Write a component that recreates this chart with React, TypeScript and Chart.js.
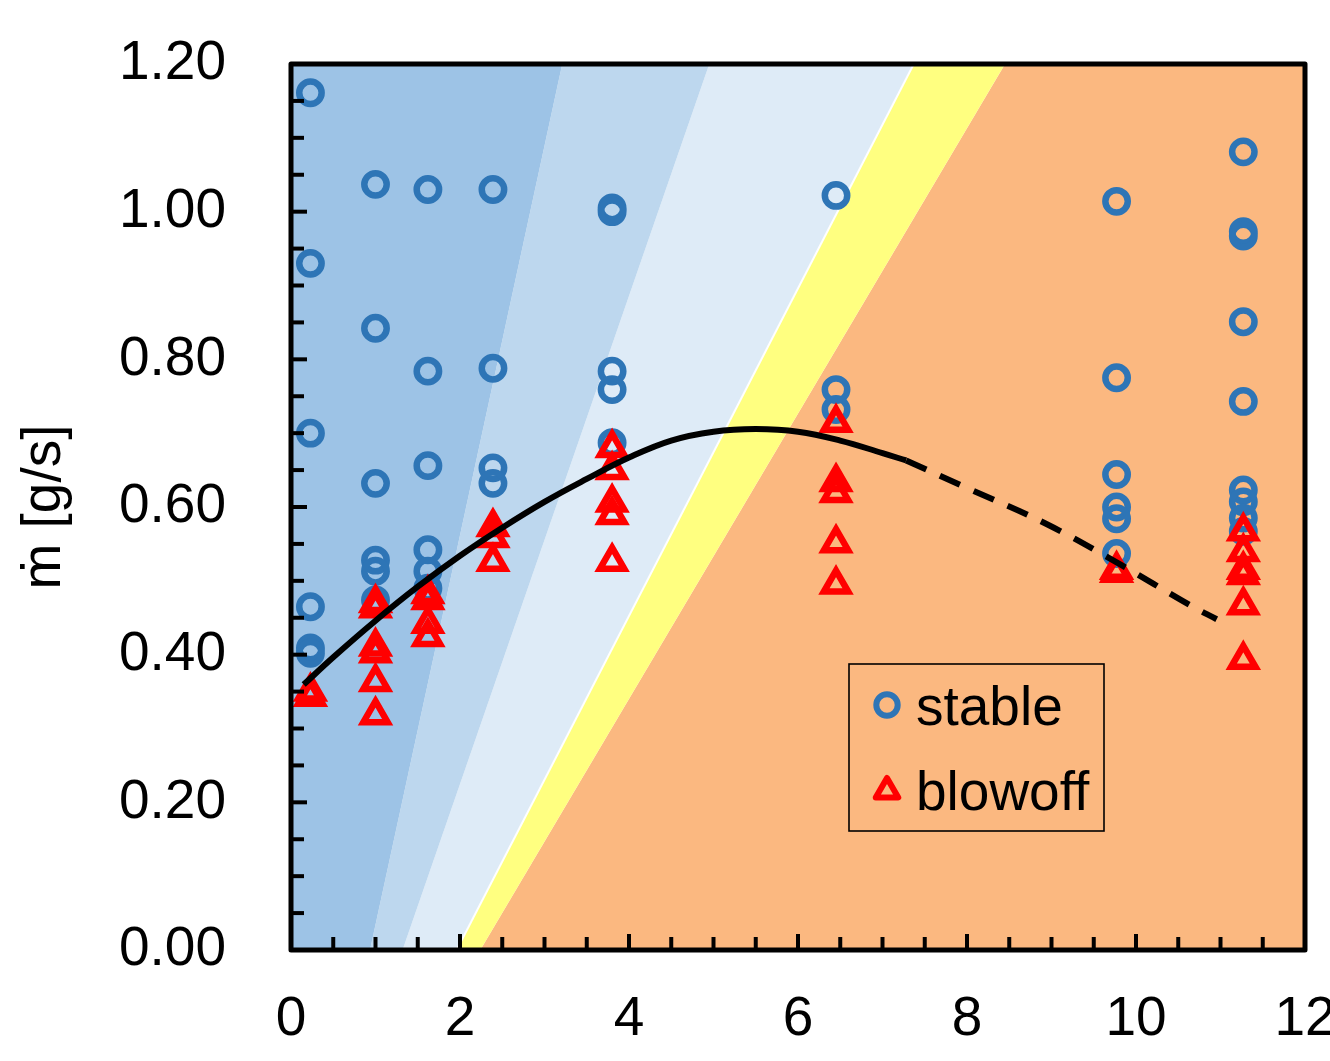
import React, { useEffect, useRef } from 'react';
import { Chart, registerables } from 'chart.js';

Chart.register(...registerables);

// ---------- data ----------
const stableX = [
  0.23, 0.23, 0.23, 0.23, 0.23, 0.23,
  1.0, 1.0, 1.0, 1.0, 1.0, 1.0,
  1.62, 1.62, 1.62, 1.62, 1.62, 1.62,
  2.39, 2.39, 2.39, 2.39,
  3.8, 3.8, 3.8, 3.8, 3.8,
  6.45, 6.45, 6.45,
  9.77, 9.77, 9.77, 9.77, 9.77, 9.77,
  11.27, 11.27, 11.27, 11.27, 11.27, 11.27, 11.27, 11.27, 11.27,
];
const stableY = [
  1.161, 0.93, 0.7, 0.465, 0.409, 0.402,
  1.037, 0.842, 0.632, 0.528, 0.513, 0.474,
  1.03, 0.784, 0.656, 0.542, 0.513, 0.49,
  1.03, 0.788, 0.653, 0.632,
  1.005, 1.0, 0.784, 0.759, 0.687,
  1.022, 0.759, 0.732,
  1.014, 0.775, 0.644, 0.6, 0.584, 0.537,
  1.081, 0.973, 0.967, 0.851, 0.743, 0.623, 0.607, 0.585, 0.567,
];
const blowoffX = [
  0.23, 0.23,
  1.0, 1.0, 1.0, 1.0, 1.0, 1.0,
  1.62, 1.62, 1.62, 1.62,
  2.39, 2.39, 2.39,
  3.8, 3.8, 3.8, 3.8, 3.8,
  6.45, 6.45, 6.45, 6.45, 6.45,
  9.77, 9.77,
  11.27, 11.27, 11.27, 11.27, 11.27, 11.27,
];
const blowoffY = [
  0.35, 0.343,
  0.47, 0.463, 0.411, 0.402, 0.363, 0.318,
  0.482, 0.474, 0.442, 0.424,
  0.573, 0.558, 0.526,
  0.68, 0.65, 0.606, 0.589, 0.526,
  0.714, 0.634, 0.619, 0.551, 0.495,
  0.515, 0.511,
  0.567, 0.539, 0.515, 0.508, 0.467, 0.393,
];
// fitted curve (solid part, then dashed extrapolation)
const fitSolidX = [0.15, 0.5, 1.0, 1.5, 2.0, 2.5, 3.0, 3.5, 4.0, 4.5, 5.0, 5.5, 6.0, 6.5, 7.0, 7.28];
const fitSolidY = [0.3595, 0.3965, 0.446, 0.492, 0.534, 0.572, 0.607, 0.638, 0.667, 0.69, 0.702, 0.7055, 0.702, 0.69, 0.673, 0.663];
const fitDashX = [7.28, 8.056, 8.923, 9.787, 10.639, 10.955];
const fitDashY = [0.663, 0.623, 0.578, 0.524, 0.467, 0.448];

// background band boundaries (x at y=0 and x at y=1.2)
const bandBottomX = [0.935, 1.32, 1.96, 2.24];
const bandTopX = [3.21, 4.95, 7.37, 8.45];
const bandColors = ['#9DC3E6', '#BDD7EE', '#DEEBF7', '#FFFF80', '#FBB880'];

const xRange = [0, 12];
const yRange = [0, 1.2];
const xMajorTicks = [0, 2, 4, 6, 8, 10, 12];
const xTickLabels = ['0', '2', '4', '6', '8', '10', '12'];
const yMajorTicks = [0, 0.2, 0.4, 0.6, 0.8, 1.0, 1.2];
const yTickLabels = ['0.00', '0.20', '0.40', '0.60', '0.80', '1.00', '1.20'];
const xMinorStep = 0.5;
const yMinorStep = 0.05;
const legendLabels = ['stable', 'blowoff'];
const yTitle = 'ṁ [g/s]';

const FONT = "'Liberation Sans', Arial, sans-serif";
const FSIZE = 55;
const BLUE = '#2E75B6';
const RED = '#FF0000';
const MARK_W = 6.5;
const CIRC_R = 11.2;
const TRI_R = 14;

const pts = (xs: number[], ys: number[]) => xs.map((x, i) => ({ x, y: ys[i] }));

function bandPolygons() {
  const lefts = [xRange[0], ...bandBottomX];
  const leftsTop = [xRange[0], ...bandTopX];
  const rights = [...bandBottomX, xRange[1]];
  const rightsTop = [...bandTopX, xRange[1]];
  return bandColors.map((c, i) => ({
    data: [
      { x: lefts[i], y: yRange[0] },
      { x: rights[i], y: yRange[0] },
      { x: rightsTop[i], y: yRange[1] },
      { x: leftsTop[i], y: yRange[1] },
    ],
    showLine: true,
    fill: 'shape',
    backgroundColor: c,
    borderColor: 'rgba(0,0,0,0)',
    borderWidth: 0,
    pointRadius: 0,
    order: 20,
  }));
}

const decorPlugin = {
  id: 'decor',
  afterDatasetsDraw(chart: any) {
    const { ctx, chartArea: a, scales } = chart;
    const xs = scales.x;
    const ys = scales.y;
    ctx.save();
    ctx.strokeStyle = '#000';
    ctx.lineWidth = 4;
    ctx.lineCap = 'butt';
    const nY = Math.round((yRange[1] - yRange[0]) / yMinorStep);
    for (let i = 0; i <= nY; i++) {
      const v = yRange[0] + i * yMinorStep;
      const major = yMajorTicks.some((t) => Math.abs(t - v) < 1e-6);
      const py = ys.getPixelForValue(v);
      ctx.beginPath();
      ctx.moveTo(a.left, py);
      ctx.lineTo(a.left + (major ? 16 : 13), py);
      ctx.stroke();
    }
    const nX = Math.round((xRange[1] - xRange[0]) / xMinorStep);
    for (let i = 0; i <= nX; i++) {
      const v = xRange[0] + i * xMinorStep;
      const major = xMajorTicks.some((t) => Math.abs(t - v) < 1e-6);
      const px = xs.getPixelForValue(v);
      ctx.beginPath();
      ctx.moveTo(px, a.bottom);
      ctx.lineTo(px, a.bottom - (major ? 16 : 13));
      ctx.stroke();
    }
    // frame
    ctx.lineWidth = 5;
    ctx.lineJoin = 'round';
    ctx.strokeRect(a.left, a.top, a.right - a.left, a.bottom - a.top);

    // legend
    const bx = a.left + 558;
    const by = a.top + 600;
    const bw = 255;
    const bh = 167;
    ctx.lineWidth = 1.6;
    ctx.lineJoin = 'miter';
    ctx.strokeRect(bx, by, bw, bh);
    // circle marker
    ctx.lineWidth = MARK_W - 0.5;
    ctx.strokeStyle = BLUE;
    ctx.beginPath();
    ctx.arc(bx + 38, by + 41, CIRC_R - 0.5, 0, Math.PI * 2);
    ctx.stroke();
    // triangle marker
    const tx = bx + 38;
    const ty = by + 127;
    ctx.strokeStyle = RED;
    ctx.lineJoin = 'round';
    ctx.beginPath();
    for (let k = 0; k < 3; k++) {
      const ang = (k * 2 * Math.PI) / 3;
      const px = tx + Math.sin(ang) * (TRI_R - 1);
      const py = ty - Math.cos(ang) * (TRI_R - 1);
      if (k === 0) ctx.moveTo(px, py);
      else ctx.lineTo(px, py);
    }
    ctx.closePath();
    ctx.stroke();
    ctx.fillStyle = '#000';
    ctx.font = `${FSIZE}px ${FONT}`;
    ctx.textBaseline = 'alphabetic';
    ctx.textAlign = 'left';
    ctx.fillText(legendLabels[0], bx + 67, by + 61);
    ctx.fillText(legendLabels[1], bx + 67, by + 146);
    ctx.restore();
  },
};

export default function App() {
  const ref = useRef<HTMLCanvasElement | null>(null);

  useEffect(() => {
    if (!ref.current) return;
    const datasets: any[] = [
      ...bandPolygons(),
      {
        data: [
          { x: bandBottomX[2], y: yRange[0] },
          { x: bandTopX[2], y: yRange[1] },
        ],
        showLine: true,
        borderColor: '#FFFFFF',
        borderWidth: 2,
        pointRadius: 0,
        fill: false,
        order: 15,
      },
      {
        label: legendLabels[0],
        data: pts(stableX, stableY),
        showLine: false,
        pointStyle: 'circle',
        pointRadius: CIRC_R,
        pointBorderWidth: MARK_W,
        borderWidth: MARK_W,
        pointBorderColor: BLUE,
        borderColor: BLUE,
        pointBackgroundColor: 'rgba(0,0,0,0)',
        order: 4,
      },
      {
        label: legendLabels[1],
        data: pts(blowoffX, blowoffY),
        showLine: false,
        pointStyle: 'triangle',
        pointRadius: TRI_R,
        pointBorderWidth: MARK_W,
        borderWidth: MARK_W,
        pointBorderColor: RED,
        borderColor: RED,
        pointBackgroundColor: 'rgba(0,0,0,0)',
        order: 3,
      },
      {
        data: pts(fitSolidX, fitSolidY),
        showLine: true,
        borderColor: '#000',
        borderWidth: 6,
        pointRadius: 0,
        tension: 0.4,
        fill: false,
        order: 1,
      },
      {
        data: pts(fitDashX, fitDashY),
        showLine: true,
        borderColor: '#000',
        borderWidth: 6,
        borderDash: [22, 15],
        pointRadius: 0,
        tension: 0.4,
        fill: false,
        order: 1,
      },
    ];

    const chart = new Chart(ref.current, {
      type: 'scatter',
      data: { datasets },
      options: {
        animation: false,
        responsive: false,
        maintainAspectRatio: false,
        devicePixelRatio: 1,
        events: [],
        layout: { padding: { left: 0, top: 64, right: 25, bottom: 0 } },
        plugins: {
          legend: { display: false },
          tooltip: { enabled: false },
        },
        scales: {
          x: {
            type: 'linear',
            min: xRange[0],
            max: xRange[1],
            afterBuildTicks: (s: any) => {
              s.ticks = xMajorTicks.map((v) => ({ value: v }));
            },
            afterFit: (s: any) => {
              s.height = 111;
              s.paddingLeft = 0;
              s.paddingRight = 0;
            },
            ticks: {
              callback: (_v: any, i: number) => xTickLabels[i],
              font: { family: FONT, size: FSIZE },
              color: '#000',
              padding: 37,
              maxRotation: 0,
              autoSkip: false,
            },
            grid: { display: false, drawTicks: false },
            border: { display: false },
          },
          y: {
            type: 'linear',
            min: yRange[0],
            max: yRange[1],
            afterBuildTicks: (s: any) => {
              s.ticks = yMajorTicks.map((v) => ({ value: v }));
            },
            afterFit: (s: any) => {
              s.width = 291;
              s.paddingTop = 0;
              s.paddingBottom = 0;
            },
            ticks: {
              callback: (_v: any, i: number) => yTickLabels[i],
              font: { family: FONT, size: FSIZE },
              color: '#000',
              padding: 65,
              autoSkip: false,
            },
            grid: { display: false, drawTicks: false },
            border: { display: false },
            title: {
              display: true,
              text: yTitle,
              font: { family: FONT, size: FSIZE },
              color: '#000',
              padding: { top: 12, bottom: 0 },
            },
          },
        },
      },
      plugins: [decorPlugin],
    } as any);
    return () => chart.destroy();
  }, []);

  return (
    <div style={{ position: 'fixed', left: 0, top: 0, width: 1330, height: 1061, background: '#fff' }}>
      <canvas ref={ref} width={1330} height={1061} style={{ display: 'block', width: 1330, height: 1061 }} />
    </div>
  );
}
